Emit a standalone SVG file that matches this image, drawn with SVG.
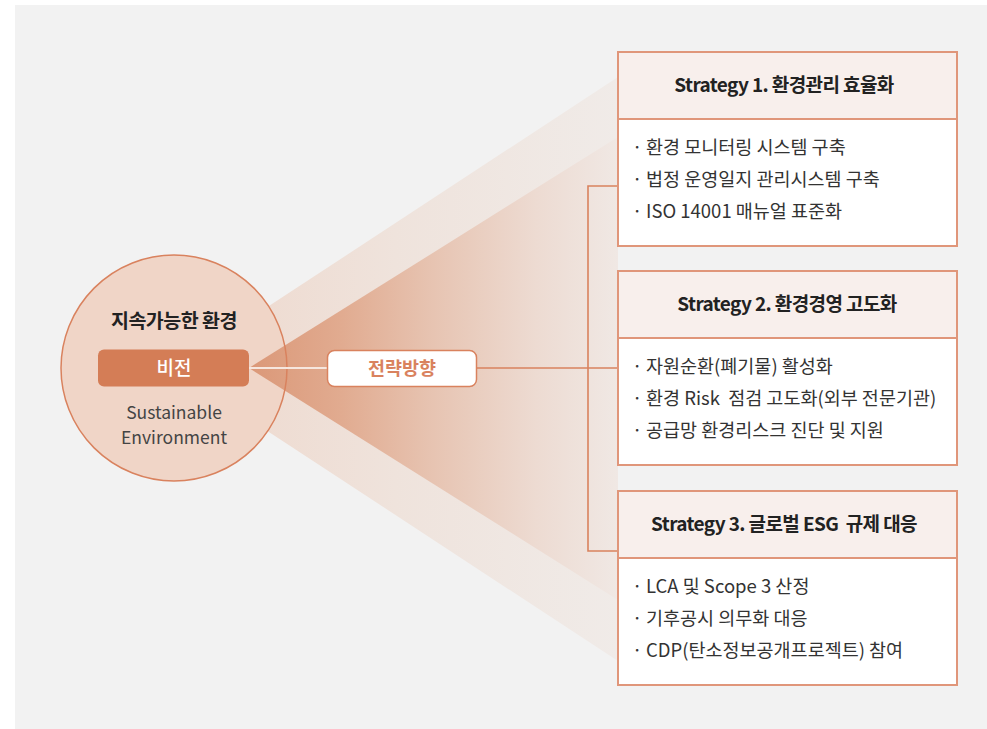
<svg xmlns="http://www.w3.org/2000/svg" width="987" height="729" viewBox="0 0 987 729">
  <defs>
    <linearGradient id="gLight" gradientUnits="userSpaceOnUse" x1="173" y1="0" x2="618" y2="0">
      <stop offset="0" stop-color="#eed7cb"/>
      <stop offset="0.5" stop-color="#efe3dc"/>
      <stop offset="1" stop-color="#f0ebe8"/>
    </linearGradient>
    <linearGradient id="gDark" gradientUnits="userSpaceOnUse" x1="249" y1="0" x2="618" y2="0">
      <stop offset="0" stop-color="#db9878"/>
      <stop offset="0.25" stop-color="#e1ab90"/>
      <stop offset="0.5" stop-color="#e7c4b2"/>
      <stop offset="0.78" stop-color="#eddbd2"/>
      <stop offset="1" stop-color="#f0e8e4"/>
    </linearGradient>
    <style>
      text { font-family: "Noto Sans CJK KR", "Noto Sans", sans-serif; white-space: pre; }
      .hdr { font-size: 19px; font-weight: 700; fill: #222; text-anchor: middle; letter-spacing: -0.6px; }
      .item { font-size: 18.5px; fill: #333; letter-spacing: 0px; }
      .boxH { fill: #f8efec; stroke: #e0967a; stroke-width: 2; }
      .boxB { fill: #ffffff; stroke: #e0967a; stroke-width: 2; }
      .conn { stroke: #d9825e; stroke-width: 1.6; fill: none; }
    </style>
  </defs>

  <rect x="15" y="5" width="972" height="724" fill="#f2f2f2"/>

  <!-- fans -->
  <polygon points="173,369 618,77 618,661" fill="url(#gLight)"/>

  <g id="vision">
    <circle cx="174" cy="368" r="113" fill="#f0d5c7"/>
  </g>

  <polygon points="249,368 618,137 618,600" fill="url(#gDark)"/>

  <g id="vision-outline">
    <circle cx="174" cy="368" r="113" fill="none" stroke="#d9825e" stroke-width="1.5"/>
    <text x="174" y="328" text-anchor="middle" font-size="19.5" font-weight="700" fill="#222" letter-spacing="-0.5">지속가능한 환경</text>
    <rect x="98" y="349.5" width="151" height="37" rx="6" fill="#d47d56"/>
    <text x="174" y="375" text-anchor="middle" font-size="19" font-weight="500" fill="#ffffff">비전</text>
    <text x="174" y="419" text-anchor="middle" font-size="17.5" fill="#444">Sustainable</text>
    <text x="174" y="444" text-anchor="middle" font-size="17.5" fill="#444">Environment</text>
  </g>

  <g id="connectors">
    <line x1="249" y1="368" x2="328" y2="368" stroke="#f6e6de" stroke-width="2"/>
    <line class="conn" x1="477" y1="368" x2="618" y2="368"/>
    <polyline class="conn" points="618,186 588,186 588,551 618,551"/>
  </g>

  <g id="direction">
    <rect x="327.5" y="350.5" width="149" height="36" rx="7" fill="#ffffff" stroke="#d9825e" stroke-width="1.5"/>
    <text x="402" y="375" text-anchor="middle" font-size="18.5" font-weight="700" fill="#d9825e">전략방향</text>
  </g>

  <g id="strategy1">
    <rect class="boxB" x="618" y="52" width="339" height="194"/>
    <rect class="boxH" x="618" y="52" width="339" height="67"/>
    <text class="hdr" x="784" y="91.5">Strategy 1. 환경관리 효율화</text>
    <text class="item"><tspan x="632" y="154">·</tspan><tspan x="646" y="154">환경 모니터링 시스템 구축</tspan></text>
    <text class="item"><tspan x="632" y="186">·</tspan><tspan x="646" y="186">법정 운영일지 관리시스템 구축</tspan></text>
    <text class="item"><tspan x="632" y="218">·</tspan><tspan x="646" y="218">ISO 14001 매뉴얼 표준화</tspan></text>
  </g>

  <g id="strategy2">
    <rect class="boxB" x="618" y="271" width="339" height="194"/>
    <rect class="boxH" x="618" y="271" width="339" height="67"/>
    <text class="hdr" x="787" y="310.5">Strategy 2. 환경경영 고도화</text>
    <text class="item"><tspan x="632" y="373">·</tspan><tspan x="646" y="373">자원순환(폐기물) 활성화</tspan></text>
    <text class="item"><tspan x="632" y="405">·</tspan><tspan x="646" y="405">환경 Risk  점검 고도화(외부 전문기관)</tspan></text>
    <text class="item"><tspan x="632" y="437">·</tspan><tspan x="646" y="437">공급망 환경리스크 진단 및 지원</tspan></text>
  </g>

  <g id="strategy3">
    <rect class="boxB" x="618" y="491" width="339" height="194"/>
    <rect class="boxH" x="618" y="491" width="339" height="67"/>
    <text class="hdr" x="784" y="530.5">Strategy 3. 글로벌 ESG  규제 대응</text>
    <text class="item"><tspan x="632" y="593">·</tspan><tspan x="646" y="593">LCA 및 Scope 3 산정</tspan></text>
    <text class="item"><tspan x="632" y="625">·</tspan><tspan x="646" y="625">기후공시 의무화 대응</tspan></text>
    <text class="item"><tspan x="632" y="657">·</tspan><tspan x="646" y="657">CDP(탄소정보공개프로젝트) 참여</tspan></text>
  </g>
</svg>
